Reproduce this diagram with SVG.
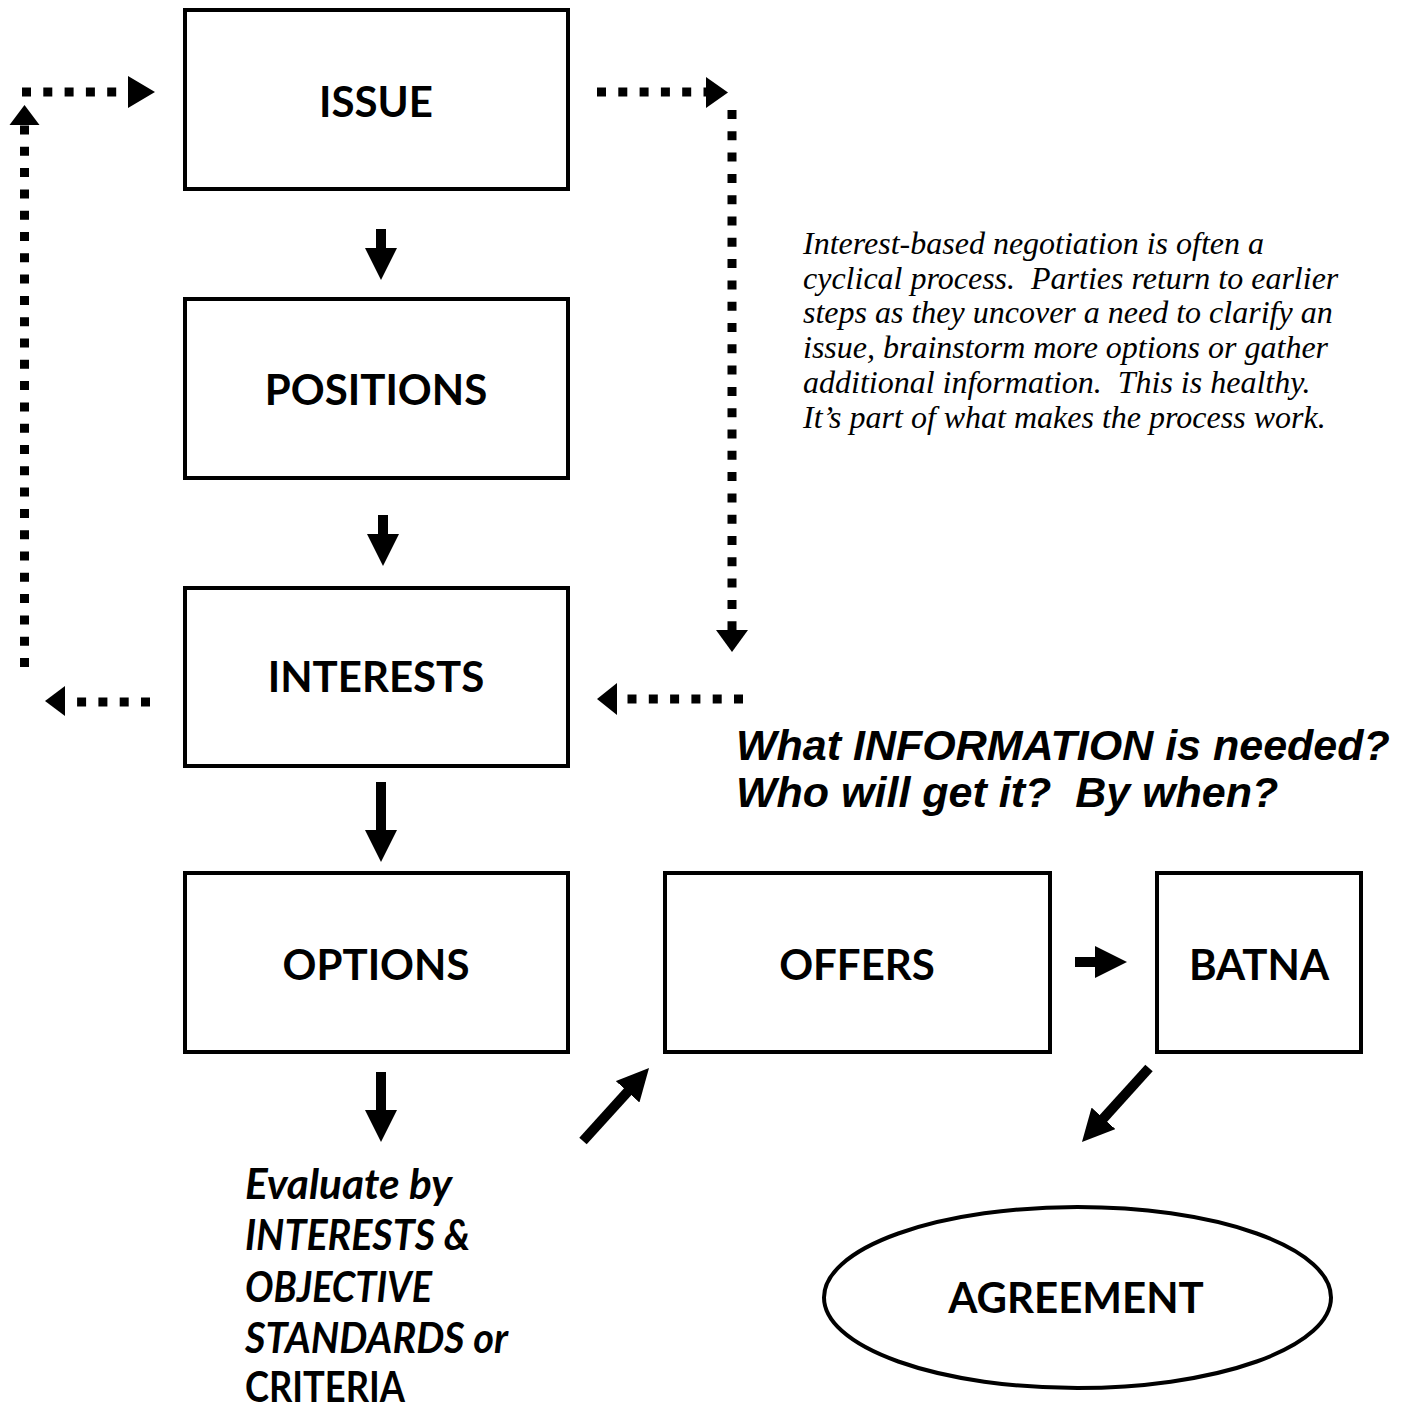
<svg xmlns="http://www.w3.org/2000/svg" width="1403" height="1410" viewBox="0 0 1403 1410">
<style>
.box{fill:#fff;stroke:#000;stroke-width:4}
.lbl{font-family:Lato,"Open Sans",sans-serif;font-weight:bold;font-size:42px;fill:#000;text-anchor:middle}
.shaft{stroke:#000;stroke-width:10;fill:none}
.dots{stroke:#000;stroke-width:9;fill:none;stroke-dasharray:9 12.3}
.head{fill:#000}
.note{font-family:"Liberation Serif","Times New Roman",serif;font-style:italic;font-size:32px;fill:#000;white-space:pre}
.q{font-family:"Liberation Sans",Arial,sans-serif;font-style:italic;font-weight:bold;font-size:43px;fill:#000;white-space:pre}
.ev{font-family:Lato,"Open Sans",sans-serif;font-weight:bold;font-style:italic;font-size:42px;fill:#000}
.ev-up{font-family:Lato,"Open Sans",sans-serif;font-weight:bold;font-style:normal;font-size:42px;fill:#000}
</style>
<defs>
<marker id="ah" viewBox="0 0 32 32" markerWidth="32" markerHeight="32" markerUnits="userSpaceOnUse" refX="2" refY="16" orient="auto">
<path d="M0,0 L32,16 L0,32 Z" fill="#000"/>
</marker>
</defs>
<rect width="1403" height="1410" fill="#fff"/>
<g id="connectors">
<line class="shaft" x1="381" y1="229" x2="381" y2="250" marker-end="url(#ah)"/>
<line class="shaft" x1="383" y1="515" x2="383" y2="536" marker-end="url(#ah)"/>
<line class="shaft" x1="381" y1="782" x2="381" y2="832" stroke-width="11" marker-end="url(#ah)"/>
<line class="shaft" x1="381" y1="1072" x2="381" y2="1112" stroke-width="11" marker-end="url(#ah)"/>
<line class="shaft" x1="583" y1="1141" x2="628.9" y2="1090.3" stroke-width="11" marker-end="url(#ah)"/>
<line class="shaft" x1="1075" y1="962" x2="1097" y2="962" marker-end="url(#ah)"/>
<line class="shaft" x1="1149" y1="1068" x2="1102.1" y2="1119.8" stroke-width="11" marker-end="url(#ah)"/>
<line class="dots" x1="22" y1="92" x2="124" y2="92"/>
<polygon class="head" points="128,76 155,92 128,108"/>
<line class="dots" x1="24.5" y1="667" x2="24.5" y2="124"/>
<polygon class="head" points="9.5,125 24.5,105 39.5,125"/>
<line class="dots" x1="150" y1="702" x2="70" y2="702"/>
<polygon class="head" points="65,686 45,701 65,716"/>
<line class="dots" x1="597" y1="92" x2="708" y2="92"/>
<polygon class="head" points="706,77 728,92.5 706,108"/>
<line class="dots" x1="732" y1="110" x2="732" y2="632"/>
<polygon class="head" points="716,630 732,652 748,630"/>
<line class="dots" x1="743" y1="699" x2="620" y2="699"/>
<polygon class="head" points="617,683 597,699 617,715"/>
</g>
<g id="issue"><rect class="box" x="185" y="10" width="383" height="179"/><text class="lbl" x="376" y="117">ISSUE</text></g>
<g id="positions"><rect class="box" x="185" y="299" width="383" height="179"/><text class="lbl" x="376" y="405">POSITIONS</text></g>
<g id="interests"><rect class="box" x="185" y="588" width="383" height="178"/><text class="lbl" x="376" y="692">INTERESTS</text></g>
<g id="options"><rect class="box" x="185" y="873" width="383" height="179"/><text class="lbl" x="376" y="980">OPTIONS</text></g>
<g id="offers"><rect class="box" x="665" y="873" width="385" height="179"/><text class="lbl" x="857" y="980">OFFERS</text></g>
<g id="batna"><rect class="box" x="1157" y="873" width="204" height="179"/><text class="lbl" x="1259" y="980">BATNA</text></g>
<g id="agreement"><ellipse class="box" cx="1077.5" cy="1297.5" rx="253.5" ry="90.5"/><text class="lbl" x="1076" y="1313">AGREEMENT</text></g>
<g id="note">
<text class="note" x="803" y="254">Interest-based negotiation is often a</text>
<text class="note" x="803" y="289">cyclical process.  Parties return to earlier</text>
<text class="note" x="803" y="323">steps as they uncover a need to clarify an</text>
<text class="note" x="803" y="358">issue, brainstorm more options or gather</text>
<text class="note" x="803" y="393">additional information.  This is healthy.</text>
<text class="note" x="803" y="428">It’s part of what makes the process work.</text>
</g>
<g id="question">
<text class="q" x="736" y="760">What INFORMATION is needed?</text>
<text class="q" x="736" y="807">Who will get it?  By when?</text>
</g>
<g id="evaluate">
<text class="ev" x="245" y="1199" textLength="207" lengthAdjust="spacingAndGlyphs">Evaluate by</text>
<text class="ev" x="245" y="1250" textLength="225" lengthAdjust="spacingAndGlyphs">INTERESTS &amp;</text>
<text class="ev" x="245" y="1302" textLength="187" lengthAdjust="spacingAndGlyphs">OBJECTIVE</text>
<text class="ev" x="245" y="1353" textLength="263" lengthAdjust="spacingAndGlyphs">STANDARDS or</text>
<text class="ev-up" x="245" y="1402" textLength="160" lengthAdjust="spacingAndGlyphs">CRITERIA</text>
</g>
</svg>
